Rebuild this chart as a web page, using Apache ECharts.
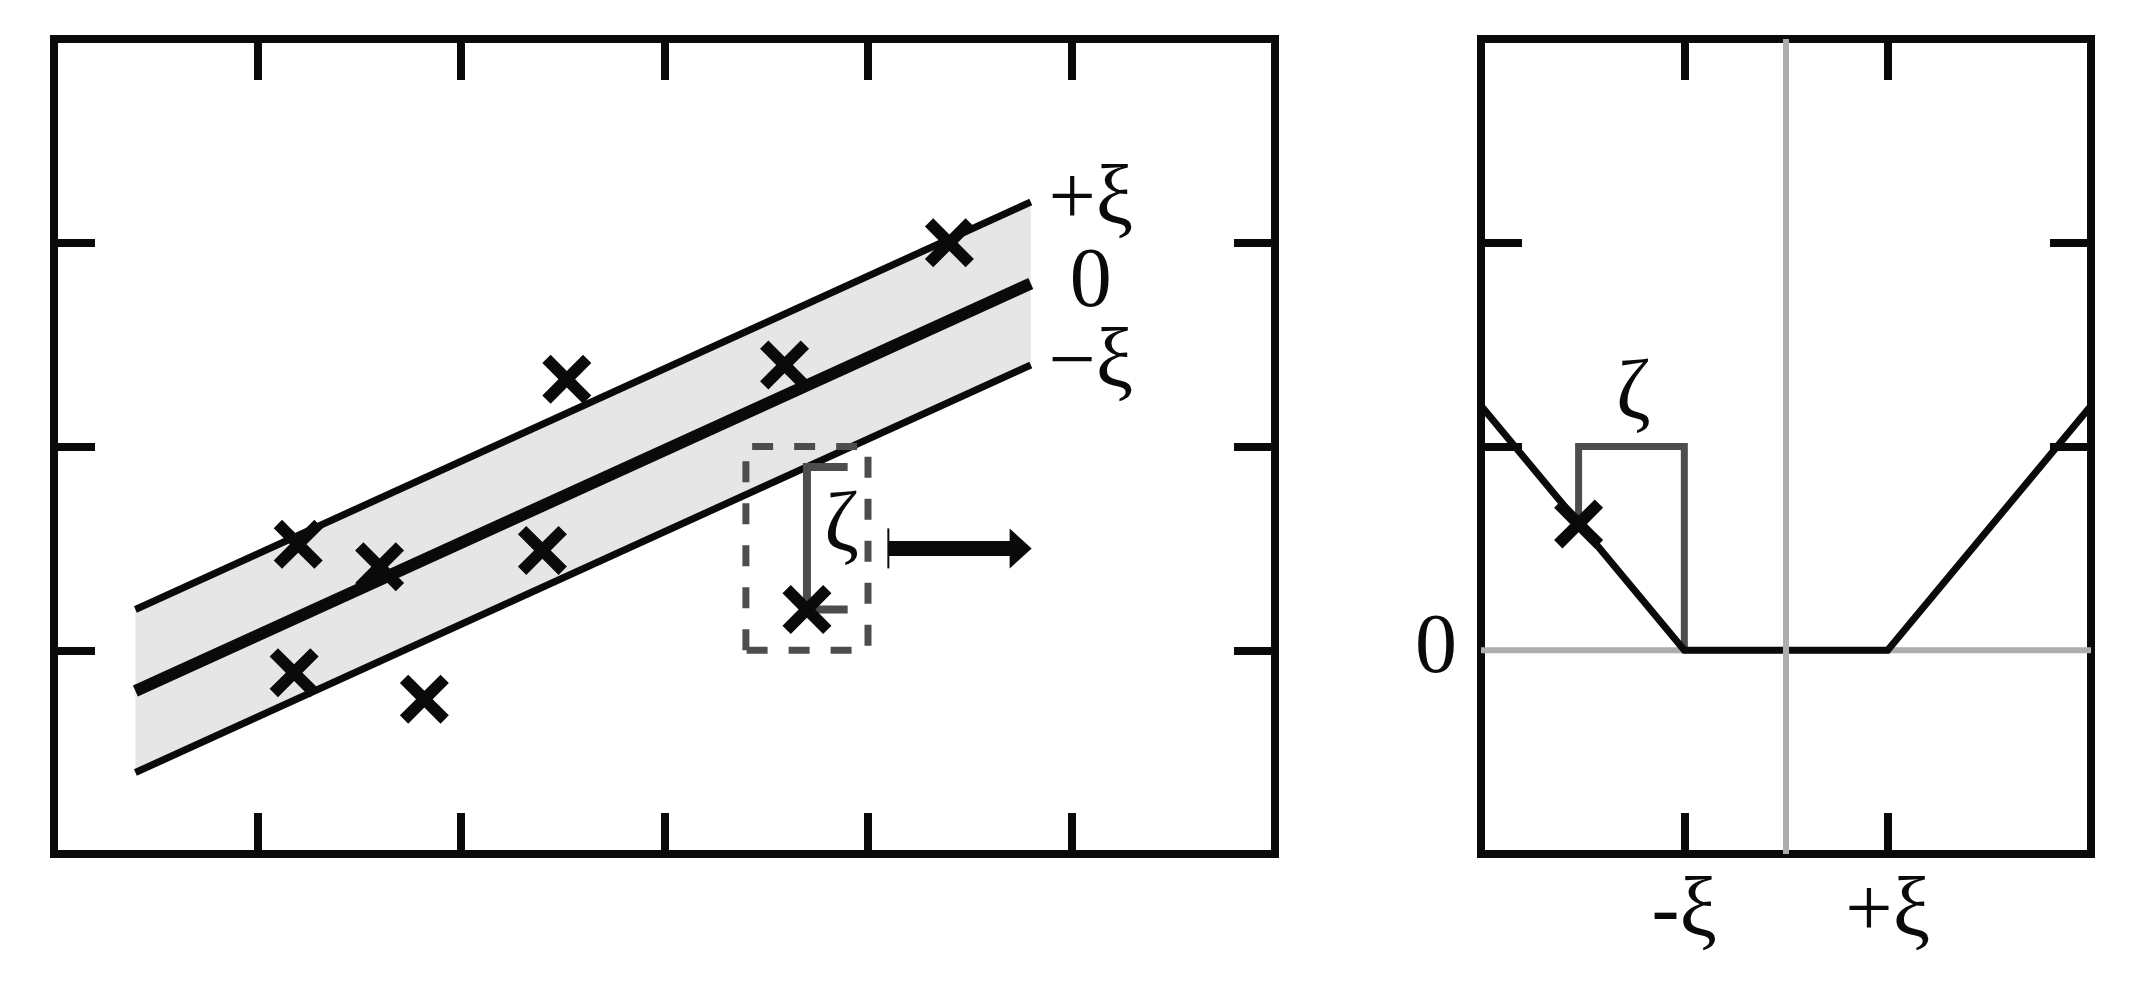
<!DOCTYPE html>
<html>
<head>
<meta charset="utf-8">
<script src="https://cdn.jsdelivr.net/npm/echarts@6/dist/echarts.min.js"></script>
<style>
  html, body { margin: 0; padding: 0; background: #fff; }
  #chart { width: 2132px; height: 990px; }
</style>
</head>
<body>
<div id="chart"></div>
<script>
// ---- left panel: regression tube ----
const fitX = [0.4, 4.8];
const centerY = [0.8, 2.8];
const upperY = [1.2, 3.2];
const lowerY = [0.4, 2.4];
const tubeLabels = ['+ξ', '0', '−ξ'];

const sampleX = [1.2, 1.6, 1.18, 1.82, 2.52, 2.4, 3.59, 3.7, 4.4];
const sampleY = [1.52, 1.41, 0.89, 0.76, 2.33, 1.49, 2.40, 1.2, 3.0];

const boxX = [3.4, 3.4, 4.0, 4.0, 3.4];
const boxY = [1, 2, 2, 1, 1];
const slackX = [3.9, 3.7, 3.7, 3.9];
const slackY = [1.9, 1.9, 1.2, 1.2];
const arrowX = [4.1, 4.75];
const arrowY = [1.5, 1.5];

// ---- right panel: epsilon-insensitive loss ----
const lossX = [0, 1, 2, 3];
const lossY = [2.2, 1, 1, 2.2];
const lossPointX = [0.48];
const lossPointY = [1.62];
const lossSlackX = [0.48, 0.48, 1, 1];
const lossSlackY = [1.62, 2, 2, 1];
const zeroLine = 1;
const centerLine = 1.5;
const lossTickLabels = { 1: '-ξ', 2: '+ξ' };

// annotations [x, y, text]
const leftNotes = [[3.87, 1.6, 'ζ']];
const rightNotes = [[0.75, 2.25, 'ζ']];

const zip = (xs, ys) => xs.map((x, i) => [x, ys[i]]);

const INK = '#0a0a0a';
const DARK = '#4d4d4d';
const LIGHT = '#adadad';
const FONT = 'Liberation Serif';
const FS = 84;

// filled X marker
const d = 8.5;
const crossPath = 'path://M' + [
  [0, 2 * d], [2 * d, 0], [50, 50 - 2 * d], [100 - 2 * d, 0], [100, 2 * d],
  [50 + 2 * d, 50], [100, 100 - 2 * d], [100 - 2 * d, 100], [50, 50 + 2 * d],
  [2 * d, 100], [0, 100 - 2 * d], [50 - 2 * d, 50]
].map(p => p.join(',')).join('L') + 'Z';

function frameAxis(base) {
  return Object.assign({
    type: 'value',
    interval: 1,
    axisLine: { show: false, onZero: false },
    splitLine: { show: false },
    axisLabel: { show: false },
    axisTick: { show: true, inside: true, length: 41, lineStyle: { color: INK, width: 8 } }
  }, base);
}

function noteSeries(xi, yi, notes) {
  return {
    type: 'custom', xAxisIndex: xi, yAxisIndex: yi, z: 6,
    data: notes.map(n => [n[0], n[1]]),
    renderItem: (params, api) => {
      const c = api.coord([api.value(0), api.value(1)]);
      return {
        type: 'text', x: c[0], y: c[1],
        style: {
          text: notes[params.dataIndex][2], fontFamily: FONT, fontSize: FS, fill: INK,
          align: 'center', verticalAlign: 'middle'
        }
      };
    }
  };
}

const chart = echarts.init(document.getElementById('chart'));

const option = {
  animation: false,
  backgroundColor: '#fff',
  grid: [
    { left: 54, top: 39, width: 1221, height: 815, show: true, borderColor: INK, borderWidth: 8 },
    { left: 1481, top: 39, width: 610, height: 815, show: true, borderColor: INK, borderWidth: 8 }
  ],
  xAxis: [
    frameAxis({ gridIndex: 0, min: 0, max: 6, position: 'bottom' }),
    frameAxis({ gridIndex: 0, min: 0, max: 6, position: 'top' }),
    frameAxis({
      gridIndex: 1, min: 0, max: 3, position: 'bottom',
      axisLabel: {
        show: true, margin: 60, verticalAlign: 'middle',
        fontFamily: FONT, fontSize: FS, color: INK,
        formatter: v => lossTickLabels[v] || ''
      }
    }),
    frameAxis({ gridIndex: 1, min: 0, max: 3, position: 'top' })
  ],
  yAxis: [
    frameAxis({ gridIndex: 0, min: 0, max: 4, position: 'left' }),
    frameAxis({ gridIndex: 0, min: 0, max: 4, position: 'right' }),
    frameAxis({
      gridIndex: 1, min: 0, max: 4, position: 'left',
      axisTick: { show: true, inside: true, length: 41, customValues: [2, 3], lineStyle: { color: INK, width: 8 } },
      axisLabel: {
        show: true, margin: 24, fontFamily: FONT, fontSize: FS, color: INK,
        formatter: v => (v === zeroLine ? '0' : '')
      }
    }),
    frameAxis({
      gridIndex: 1, min: 0, max: 4, position: 'right',
      axisTick: { show: true, inside: true, length: 41, customValues: [2, 3], lineStyle: { color: INK, width: 8 } }
    })
  ],
  series: [
    // tube fill between the two border lines
    {
      type: 'custom', xAxisIndex: 0, yAxisIndex: 0, silent: true, z: 1,
      data: fitX.map((x, i) => [x, lowerY[i], upperY[i]]),
      renderItem: (params, api) => {
        if (params.dataIndex !== 0) return;
        const top = fitX.map((x, i) => api.coord([x, upperY[i]]));
        const bottom = fitX.map((x, i) => api.coord([x, lowerY[i]])).reverse();
        return { type: 'polygon', shape: { points: top.concat(bottom) }, style: { fill: '#e6e6e6' } };
      }
    },
    // tube borders and fit
    ...[[upperY, 7, tubeLabels[0]], [centerY, 12, tubeLabels[1]], [lowerY, 7, tubeLabels[2]]].map(([ys, w, lab]) => ({
      type: 'line', xAxisIndex: 0, yAxisIndex: 0,
      data: zip(fitX, ys), showSymbol: false,
      lineStyle: { color: INK, width: w },
      endLabel: {
        show: true, formatter: lab, distance: 60, align: 'center', verticalAlign: 'middle',
        fontFamily: FONT, fontSize: FS, color: INK
      }
    })),
    // dashed box
    {
      type: 'line', xAxisIndex: 0, yAxisIndex: 0, data: zip(boxX, boxY), showSymbol: false,
      lineStyle: { color: DARK, width: 7, type: [21, 21], join: 'miter' }
    },
    // slack bracket
    {
      type: 'line', xAxisIndex: 0, yAxisIndex: 0, data: zip(slackX, slackY), showSymbol: false,
      lineStyle: { color: DARK, width: 8, join: 'miter' }
    },
    // arrow
    {
      type: 'line', xAxisIndex: 0, yAxisIndex: 0,
      data: zip(arrowX, arrowY).map((p, i) => ({
        value: p,
        symbol: i === 0 ? 'rect' : 'triangle',
        symbolSize: i === 0 ? [2, 40] : [40, 22],
        symbolRotate: i === 0 ? 0 : -90
      })),
      showSymbol: true, showAllSymbol: true,
      itemStyle: { color: INK, opacity: 1 },
      lineStyle: { color: INK, width: 15 }
    },
    // samples
    {
      type: 'scatter', xAxisIndex: 0, yAxisIndex: 0, data: zip(sampleX, sampleY),
      symbol: crossPath, symbolSize: 49, itemStyle: { color: INK, opacity: 1 }, z: 5
    },
    noteSeries(0, 0, leftNotes),

    // ---- right panel ----
    {
      type: 'line', xAxisIndex: 2, yAxisIndex: 2, data: zip([0, 3], [zeroLine, zeroLine]),
      showSymbol: false, lineStyle: { color: LIGHT, width: 6 }
    },
    {
      type: 'line', xAxisIndex: 2, yAxisIndex: 2, data: zip(lossSlackX, lossSlackY),
      showSymbol: false, lineStyle: { color: DARK, width: 7, join: 'miter' }
    },
    {
      type: 'line', xAxisIndex: 2, yAxisIndex: 2, data: zip(lossX, lossY),
      showSymbol: false, lineStyle: { color: INK, width: 7, join: 'miter' }
    },
    {
      type: 'line', xAxisIndex: 2, yAxisIndex: 2, data: zip([centerLine, centerLine], [0, 4]),
      showSymbol: false, lineStyle: { color: LIGHT, width: 6 }, z: 3
    },
    {
      type: 'scatter', xAxisIndex: 2, yAxisIndex: 2, data: zip(lossPointX, lossPointY),
      symbol: crossPath, symbolSize: 49, itemStyle: { color: INK, opacity: 1 }, z: 5
    },
    noteSeries(2, 2, rightNotes)
  ]
};

chart.setOption(option);
window.addEventListener('resize', () => chart.resize());
</script>
</body>
</html>
